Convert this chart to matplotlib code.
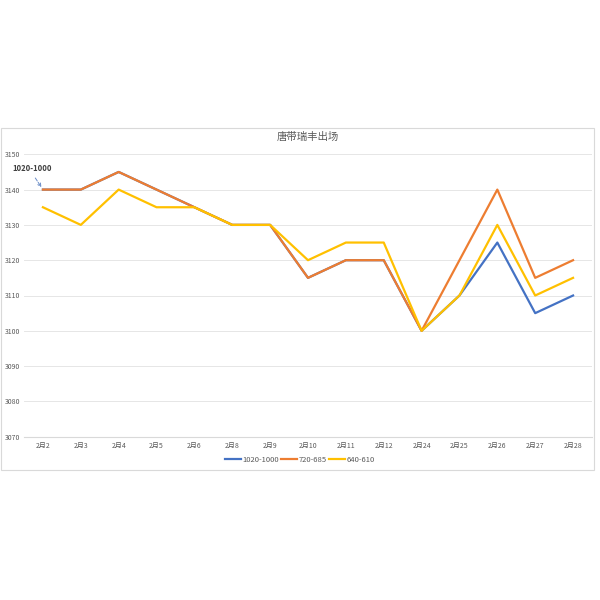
import numpy as np
import matplotlib.pyplot as plt
from matplotlib.patches import Rectangle

plt.rcParams['font.family'] = ['Noto Sans CJK SC', 'DejaVu Sans']

# 日期
dates = ['2月2', '2月3', '2月4', '2月5', '2月6', '2月8', '2月9', '2月10',
         '2月11', '2月12', '2月24', '2月25', '2月26', '2月27', '2月28']

# 三个规格的价格
s_1020 = [3140, 3140, 3145, 3140, 3135, 3130, 3130, 3115, 3120, 3120, 3100, 3110, 3125, 3105, 3110]
s_720 = [3140, 3140, 3145, 3140, 3135, 3130, 3130, 3115, 3120, 3120, 3100, 3120, 3140, 3115, 3120]
s_640 = [3135, 3130, 3140, 3135, 3135, 3130, 3130, 3120, 3125, 3125, 3100, 3110, 3130, 3110, 3115]

names = ['1020-1000', '720-685', '640-610']
colors = ['#4472C4', '#ED7D31', '#FFC000']

fig = plt.figure(figsize=(6, 6), dpi=100)
# 图表外框
fig.patches.append(Rectangle((1 / 600, 1 - 470 / 600), 593 / 600, 342 / 600,
                             transform=fig.transFigure, fill=False,
                             edgecolor='#D9D9D9', linewidth=0.8))

ax = fig.add_axes([24 / 600, 1 - 436.7 / 600, 568 / 600, 282.4 / 600])
x = np.arange(len(dates))
for ys, nm, c in zip([s_1020, s_720, s_640], names, colors):
    ax.plot(x, ys, color=c, linewidth=1.6, label=nm)

ax.set_xlim(-0.5, len(dates) - 0.5)
ax.set_ylim(3070, 3150)
ax.set_yticks(np.arange(3070, 3151, 10))
ax.set_xticks(x)
ax.set_xticklabels(dates)
ax.grid(axis='y', color='#E6E6E6', linewidth=0.7)
ax.set_axisbelow(True)
for sp in ['top', 'right', 'left']:
    ax.spines[sp].set_visible(False)
ax.spines['bottom'].set_color('#D9D9D9')
ax.tick_params(length=0, labelsize=5, colors='#595959', pad=4)
for lab in ax.get_yticklabels():
    lab.set_horizontalalignment('left')
ax.tick_params(axis='y', pad=13.5)

ax.set_title('唐带瑞丰出场', fontsize=7.5, color='#595959', pad=10)

ax.annotate('1020-1000', xy=(0, 3140), xytext=(-0.29, 3146),
            ha='center', va='center',
            fontsize=5.5, fontweight='bold', color='#404040',
            arrowprops=dict(arrowstyle='->', color='#6A8CC7', linewidth=0.7,
                            linestyle='--', relpos=(0.5, 0), shrinkA=2, shrinkB=2))

fig.legend(loc='center', bbox_to_anchor=(0.5, 1 - 460 / 600), ncol=3,
           frameon=False, fontsize=5.5, handlelength=2.1, columnspacing=0.3,
           handletextpad=0.2, labelcolor='#595959')

fig.savefig('out.png', dpi=100)
